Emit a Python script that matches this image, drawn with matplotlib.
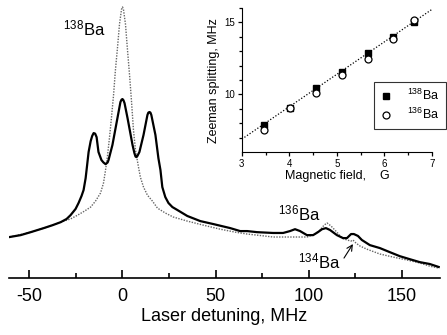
import matplotlib
matplotlib.use('Agg')
import matplotlib.pyplot as plt
import numpy as np

plt.rcParams['font.family'] = ['Liberation Sans', 'DejaVu Sans']
plt.rcParams['mathtext.fontset'] = 'custom'
plt.rcParams['mathtext.rm'] = 'Liberation Sans'
plt.rcParams['mathtext.it'] = 'Liberation Sans:italic'
plt.rcParams['mathtext.bf'] = 'Liberation Sans:bold'
plt.rcParams['axes.unicode_minus'] = False

# spectrum with magnetic field (solid), MHz vs a.u.
detuningOn = [-60.6, -54.7, -49.3, -42.3, -37.5, -33.2, -30.0, -27.9, -25.2, -23.6,
              -22.0, -20.9, -19.8, -19.3, -18.2, -17.1, -16.3, -15.5, -14.7, -13.9,
              -12.9, -11.3, -10.2, -9.1, -8.0, -7.5, -5.4, -2.7, -1.1, -0.5,
              0.0, 0.5, 1.1, 2.7, 5.4, 6.4, 7.0, 7.5, 8.0, 9.1,
              11.3, 13.4, 13.9, 14.5, 15.0, 15.5, 17.7, 19.3, 20.4, 21.4,
              23.0, 24.7, 26.8, 29.5, 34.8, 41.8, 48.8, 57.9, 63.2, 67.0,
              72.3, 80.9, 86.3, 90.0, 92.7, 95.4, 99.1, 102.4, 105.0, 107.2,
              109.3, 111.5, 115.2, 118.5, 120.6, 122.8, 124.3, 126.5, 128.6, 132.9,
              138.3, 143.6, 149.0, 154.3, 159.7, 165.1, 169.9]
signalOn = [15.2, 15.9, 17.0, 18.5, 19.6, 20.7, 21.9, 23.3, 25.6, 27.8,
            30.4, 32.6, 37.0, 40.0, 46.7, 50.7, 52.6, 53.7, 53.5, 52.2,
            46.7, 43.7, 42.8, 42.2, 42.8, 43.7, 49.3, 59.3, 65.2, 66.1,
            66.3, 65.9, 64.8, 59.3, 49.3, 46.3, 45.0, 44.8, 45.2, 46.7,
            53.0, 60.4, 61.3, 61.5, 61.3, 60.4, 53.0, 44.4, 40.0, 33.7,
            30.0, 27.8, 26.3, 25.2, 23.0, 21.1, 20.0, 18.5, 17.4, 17.4,
            17.0, 16.7, 16.7, 17.4, 18.1, 17.4, 15.9, 15.9, 17.0, 18.1,
            18.5, 17.8, 15.9, 14.8, 14.8, 16.3, 16.3, 15.6, 14.1, 12.2,
            11.1, 9.6, 8.1, 7.0, 5.9, 5.2, 4.1]

# spectrum without field (dotted)
detuningOff = [-60.6, -49.3, -42.3, -33.2, -27.9, -24.1, -20.4, -17.1, -14.5, -11.8,
               -10.2, -9.1, -8.0, -7.0, -5.9, -4.8, -3.8, -2.7, -1.6, -0.5,
               0.0, 0.5, 1.6, 2.7, 3.8, 4.8, 5.9, 7.0, 8.6, 9.6,
               11.3, 13.4, 16.1, 18.8, 23.0, 27.3, 34.8, 43.4, 52.5, 60.6,
               67.0, 72.3, 80.9, 90.0, 99.1, 103.4, 106.1, 108.3, 109.9, 112.0,
               115.2, 117.9, 120.6, 122.8, 123.8, 125.4, 127.5, 131.3, 138.3, 145.2,
               152.7, 159.7, 165.1, 169.9]
signalOff = [15.2, 17.0, 18.5, 20.7, 21.9, 23.3, 24.8, 26.3, 28.5, 31.5,
             35.2, 40.0, 45.6, 51.9, 59.6, 67.8, 77.0, 85.2, 94.1, 99.6,
             100.4, 99.6, 94.1, 84.4, 75.2, 65.9, 54.8, 47.4, 41.1, 37.4,
             33.7, 30.7, 28.5, 25.9, 24.1, 22.6, 21.1, 19.6, 18.1, 17.0,
             16.3, 15.9, 15.2, 15.2, 15.2, 16.3, 17.8, 19.6, 20.4, 19.3,
             17.0, 14.8, 14.1, 13.7, 14.1, 13.0, 11.9, 10.7, 8.9, 7.8,
             6.7, 5.6, 4.4, 3.7]

# inset: Zeeman splitting vs magnetic field
fieldG = [3.47, 4.02, 4.56, 5.10, 5.65, 6.18, 6.62]
split138 = [7.89, 9.08, 10.42, 11.59, 12.89, 14.01, 15.04]
split136 = [7.56, 9.08, 10.07, 11.38, 12.46, 13.87, 15.14]
fitSlope, fitIntercept = 2.25, 0.15

fig = plt.figure(figsize=(4.47, 3.35), dpi=100)

ax = fig.add_axes([0.020, 0.170, 0.964, 0.830])
ax.patch.set_alpha(0)
ax.plot(detuningOff, signalOff, linestyle=(0, (1, 1)), color='0.4', lw=1.0)
ax.plot(detuningOn, signalOn, color='k', lw=1.6)
ax.set_xlim(-61, 170.5)
ax.set_ylim(0, 103)
for s in ['left', 'right', 'top']:
    ax.spines[s].set_visible(False)
ax.spines['bottom'].set_linewidth(1.2)
ax.set_yticks([])
ax.set_xticks([-50, 0, 50, 100, 150])
ax.set_xticks([-25, 25, 75, 125], minor=True)
ax.tick_params(axis='x', which='major', direction='in', length=6, width=1.2, pad=7, labelsize=13)
ax.tick_params(axis='x', which='minor', direction='in', length=3.5, width=1.2)
ax.set_xlabel('Laser detuning, MHz', fontsize=13, labelpad=2)

ax.text(-32.2, 90, r'$^{138}$Ba', fontsize=12, ha='left', va='baseline')
ax.text(83.6, 21.5, r'$^{136}$Ba', fontsize=12, ha='left', va='baseline')
ax.text(94.3, 3.7, r'$^{134}$Ba', fontsize=12, ha='left', va='baseline')
ax.annotate('', xy=(123.8, 12.6), xytext=(119.0, 7.4),
            arrowprops=dict(arrowstyle='->', color='k', lw=0.8, shrinkA=0, shrinkB=0))

ins = fig.add_axes([0.541, 0.546, 0.425, 0.430])
ins.patch.set_alpha(0)
xs = np.array([3.0, 7.0])
ins.plot(xs, fitSlope * xs + fitIntercept, linestyle=(0, (1, 1.5)), color='k', lw=0.9)
ins.plot(fieldG, split138, 's', color='k', ms=4.5, label=r'$^{138}$Ba')
ins.plot(fieldG, split136, 'o', mfc='white', mec='k', mew=0.9, ms=5, label=r'$^{136}$Ba')
ins.set_xlim(3, 7)
ins.set_ylim(6, 16)
ins.spines['top'].set_visible(False)
ins.spines['right'].set_visible(False)
ins.set_xticks([3, 4, 5, 6, 7])
ins.set_xticks(np.arange(3.5, 7, 1.0), minor=True)
ins.set_yticks([10, 15])
ins.set_yticks([7, 8, 9, 11, 12, 13, 14, 16], minor=True)
ins.tick_params(which='major', length=3, width=0.9, pad=2, labelsize=7)
ins.tick_params(which='minor', length=2, width=0.9)
ins.set_xlabel('Magnetic field,    G', fontsize=9, labelpad=1)
ins.set_ylabel('Zeeman splitting, MHz', fontsize=9, labelpad=3)
leg = ins.legend(loc='upper right', bbox_to_anchor=(446 / 447, (335 - 82) / 335),
                 bbox_transform=fig.transFigure, fontsize=9, frameon=True, fancybox=False,
                 borderaxespad=0, handletextpad=1.2, borderpad=0.5, labelspacing=0.3,
                 handlelength=1.0)
leg.get_frame().set_edgecolor('k')
leg.get_frame().set_linewidth(0.8)

plt.savefig('out.png', dpi=100)
